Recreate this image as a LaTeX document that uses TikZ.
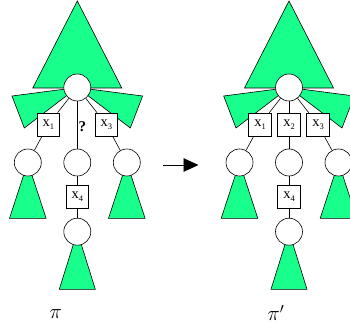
\documentclass[tikz,border=0pt]{standalone}
\usepackage{fontspec}
\setmainfont{Liberation Serif}
\usetikzlibrary{arrows.meta}
\definecolor{leafgreen}{RGB}{25,255,140}
% variable label with a lowered index
\newcommand\varx[1]{x\raisebox{-2.8pt}{\fontsize{8.5}{8.5}\selectfont #1}}
\begin{document}
\begin{tikzpicture}[x=1pt,y=-1pt,
  subtree/.style={fill=leafgreen,draw=black,line width=0.6pt,line join=miter},
  state/.style={circle,draw,fill=white,line width=0.6pt,minimum size=27pt,inner sep=0pt},
  move/.style={draw,fill=white,line width=0.6pt,minimum width=22.5pt,minimum height=23pt,inner sep=0pt,font=\fontsize{14.5}{14.5}\selectfont},
  link/.style={line width=0.6pt},
  strat/.style={font=\fontsize{20}{20}\selectfont}]
\useasboundingbox (0,0) rectangle (350,331);
\clip (0,0) rectangle (350,331);

% ---------- strategy pi ----------
\begin{scope}[shift={(77.3,0)}]
  \path[subtree] (0,1) -- (44.5,88) -- (-44.5,88) -- cycle;
  \path[subtree] (0,87.5) -- (-65.3,96) -- (-53,128) -- cycle;
  \path[subtree] (0,87.5) -- (65.3,96) -- (53,128) -- cycle;
  \path[subtree] (-49.5,162.5) -- (-67.8,218.3) -- (-31.2,218.3) -- cycle;
  \path[subtree] (49.5,162.5) -- (31.2,218.3) -- (67.8,218.3) -- cycle;
  \path[subtree] (0,231.7) -- (-18,289.3) -- (18,289.3) -- cycle;
  \node[state] (Lroot) at (0,87.5) {};
  \node[move] (Lx1) at (-29,124.5) {\varx{1}};
  \node[move] (Lx3) at (29,124.5) {\varx{3}};
  \node[state] (La) at (-49.5,162.5) {};
  \node[state] (Lb) at (0,162.5) {};
  \node[state] (Lc) at (49.5,162.5) {};
  \node[move] (Lx4) at (0,196.3) {\varx{4}};
  \node[state] (Ld) at (0,231.7) {};
  \draw[link] (Lroot) -- (Lx1);
  \draw[link] (Lroot) -- (Lx3);
  \draw[link] (Lroot) -- (Lb);
  \draw[link] (Lx1) -- (La);
  \draw[link] (Lx3) -- (Lc);
  \draw[link] (Lb) -- (Lx4);
  \draw[link] (Lx4) -- (Ld);
  \node[anchor=west,inner sep=0pt,font=\bfseries\fontsize{15}{15}\selectfont] (Lq) at (1,126.5) {?};
\end{scope}
\node[strat,anchor=west,inner sep=0pt] (Lname) at (49.5,314) {$\pi$};

% ---------- strategy pi' ----------
\begin{scope}[shift={(289,0)}]
  \path[subtree] (0,1) -- (44.5,88) -- (-44.5,88) -- cycle;
  \path[subtree] (0,87.5) -- (-65.3,96) -- (-53,128) -- cycle;
  \path[subtree] (0,87.5) -- (65.3,96) -- (53,128) -- cycle;
  \path[subtree] (-49.5,162.5) -- (-67.8,218.3) -- (-31.2,218.3) -- cycle;
  \path[subtree] (49.5,162.5) -- (31.2,218.3) -- (67.8,218.3) -- cycle;
  \path[subtree] (0,231.7) -- (-18,289.3) -- (18,289.3) -- cycle;
  \node[state] (Rroot) at (0,87.5) {};
  \node[move] (Rx1) at (-29,124.5) {\varx{1}};
  \node[move] (Rx2) at (0,124.5) {\varx{2}};
  \node[move] (Rx3) at (29,124.5) {\varx{3}};
  \node[state] (Ra) at (-49.5,162.5) {};
  \node[state] (Rb) at (0,162.5) {};
  \node[state] (Rc) at (49.5,162.5) {};
  \node[move] (Rx4) at (0,196.3) {\varx{4}};
  \node[state] (Rd) at (0,231.7) {};
  \draw[link] (Rroot) -- (Rx1);
  \draw[link] (Rroot) -- (Rx2);
  \draw[link] (Rroot) -- (Rx3);
  \draw[link] (Rx1) -- (Ra);
  \draw[link] (Rx2) -- (Rb);
  \draw[link] (Rx3) -- (Rc);
  \draw[link] (Rb) -- (Rx4);
  \draw[link] (Rx4) -- (Rd);
\end{scope}
\node[strat,anchor=west,inner sep=0pt] (Rname) at (267.5,313) {$\pi'$};

% ---------- transformation arrow ----------
\coordinate (arrS) at (163,165);
\coordinate (arrE) at (198.5,165);
\draw[line width=0.9pt,-{Triangle[length=15pt,width=13.5pt]}] (arrS) -- (arrE);
\end{tikzpicture}
\end{document}
